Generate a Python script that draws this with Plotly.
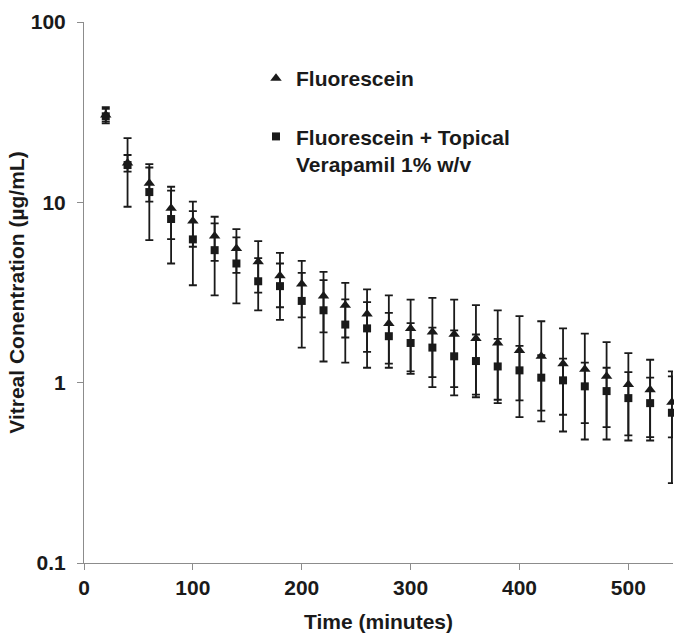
import plotly.graph_objects as go

time_min = [20, 40, 60, 80, 100, 120, 140, 160, 180, 200, 220, 240, 260, 280,
            300, 320, 340, 360, 380, 400, 420, 440, 460, 480, 500, 520, 540]

fluor = [30.5, 16.5, 12.75, 9.26, 7.87, 6.5, 5.55, 4.68, 3.92, 3.52, 3.02, 2.69, 2.40, 2.13,
         2.0, 1.91, 1.855, 1.756, 1.66, 1.51, 1.40, 1.275, 1.186, 1.084, 0.978, 0.914, 0.78]
fluor_upper = [33.0, 18.3, 15.6, 11.6, 8.94, 7.64, 6.39, 4.9, 4.58, 4.06, 3.70, 2.90, 2.80, 2.44,
               2.14, 2.02, 1.95, 1.85, 1.75, 1.6, 1.42, 1.36, 1.29, 1.21, 1.145, 1.066, 1.084]
fluor_lower = [28.0, 14.8, 10.08, 6.25, 5.67, 4.74, 4.06, 3.16, 2.62, 2.30, 1.90, 1.78, 1.48, 1.275,
               1.156, 1.074, 0.945, 0.858, 0.804, 0.797, 0.70, 0.664, 0.596, 0.567, 0.51, 0.499, 0.497]

verap = [30.0, 16.1, 11.4, 8.08, 6.23, 5.43, 4.58, 3.65, 3.43, 2.84, 2.52, 2.10, 2.0, 1.81,
         1.66, 1.565, 1.40, 1.318, 1.23, 1.17, 1.066, 1.03, 0.954, 0.898, 0.821, 0.77, 0.681]
verap_upper = [33.7, 22.7, 16.3, 12.2, 10.08, 8.32, 7.11, 6.1, 5.25, 4.74, 4.12, 3.58, 3.29, 3.05,
               2.89, 2.95, 2.89, 2.69, 2.52, 2.34, 2.19, 2.0, 1.87, 1.68, 1.46, 1.34, 1.156]
verap_lower = [27.4, 9.45, 6.17, 4.58, 3.47, 3.05, 2.75, 2.52, 2.23, 1.565, 1.31, 1.29, 1.21, 1.21,
               1.12, 0.945, 0.85, 0.83, 0.77, 0.644, 0.61, 0.536, 0.484, 0.484, 0.478, 0.478, 0.277]

y_tickvals = [0.1, 1, 10, 100]
y_ticktext = ["0.1", "1", "10", "100"]
x_tickvals = [0, 100, 200, 300, 400, 500]

FONT = "Liberation Sans, Arial, sans-serif"
INK = "#1a1a1a"
AXIS = "#8c8c8c"
FS = 21


def err(vals, hi, lo):
    return ([h - v for h, v in zip(hi, vals)], [v - l for l, v in zip(lo, vals)])


fp, fm = err(fluor, fluor_upper, fluor_lower)
vp, vm = err(verap, verap_upper, verap_lower)

fig = go.Figure()
fig.add_trace(go.Scatter(
    x=time_min, y=fluor, mode="markers", name="Fluorescein",
    legendgroup="a",
    marker=dict(symbol="triangle-up", size=10, color=INK),
    error_y=dict(type="data", symmetric=False, array=fp, arrayminus=fm,
                 color=INK, thickness=1.8, width=4),
    cliponaxis=False,
))
fig.add_trace(go.Scatter(
    x=time_min, y=verap, mode="markers", name="Fluorescein + Topical<br>Verapamil 1% w/v",
    legendgroup="b",
    marker=dict(symbol="square", size=8, color=INK),
    error_y=dict(type="data", symmetric=False, array=vp, arrayminus=vm,
                 color=INK, thickness=1.8, width=4),
    cliponaxis=False,
))

bold = dict(family=FONT, size=FS, color=INK, weight="bold")

fig.update_layout(
    width=674, height=633,
    margin=dict(l=84, r=1, t=22, b=70),
    paper_bgcolor="white", plot_bgcolor="white",
    font=dict(family=FONT, color=INK, size=FS),
    showlegend=True,
    legend=dict(x=0.292, y=0.9335, xanchor="left", yanchor="top",
                bgcolor="rgba(0,0,0,0)", valign="top",
                tracegroupgap=28, font=bold),
    xaxis=dict(range=[0, 541], tickvals=x_tickvals, showgrid=False, zeroline=False,
               automargin=False,
               showline=True, linecolor=AXIS, linewidth=1,
               ticks="outside", ticklen=6, tickcolor=AXIS, tickwidth=1,
               tickfont=bold,
               title=dict(text="Time (minutes)", standoff=19, font=bold)),
    yaxis=dict(type="log", range=[-1, 2], tickvals=y_tickvals, ticktext=y_ticktext,
               showgrid=False, zeroline=False, automargin=False,
               showline=True, linecolor=AXIS, linewidth=1,
               ticks="outside", ticklen=6, tickcolor=AXIS, tickwidth=1,
               ticklabelstandoff=7,
               tickfont=bold,
               title=dict(text="Vitreal Conentration (µg/mL)", standoff=0, font=bold)),
)

fig.write_html("out.html",
               config={"displayModeBar": False},
               post_script="document.body.style.margin='0';document.body.style.overflow='hidden';")
